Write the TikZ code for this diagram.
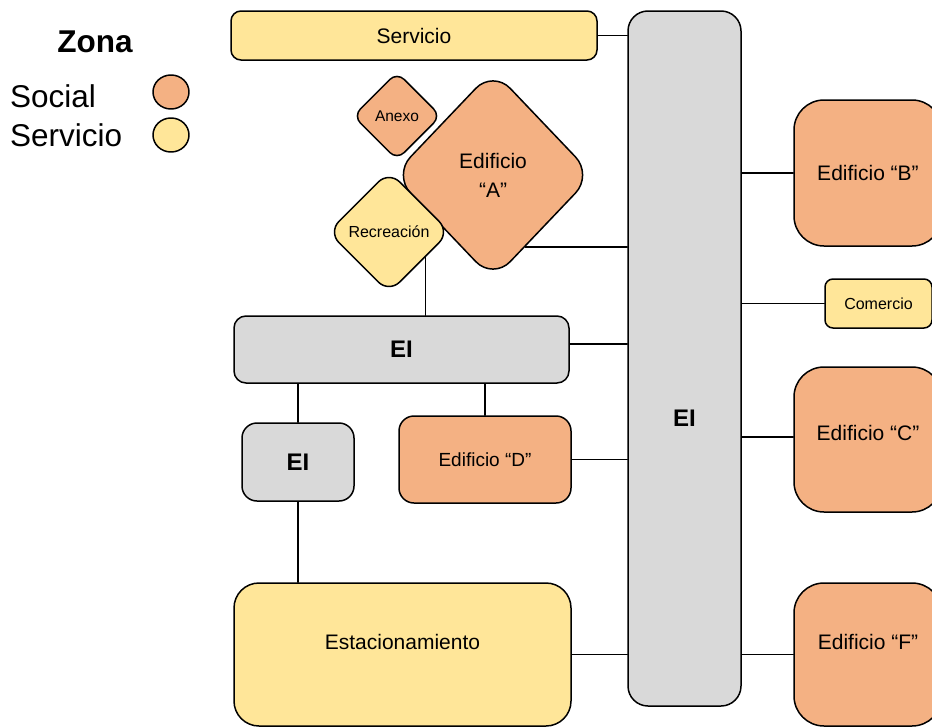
\documentclass[tikz,border=0pt]{standalone}
\usepackage{fontspec}
\setmainfont{Liberation Sans}
\usetikzlibrary{calc,shapes.geometric}
\definecolor{social}{HTML}{F4B183}
\definecolor{servi}{HTML}{FFE699}
\definecolor{gris}{HTML}{D9D9D9}
\newcommand{\fs}[1]{\fontsize{#1}{1.2\dimexpr#1pt\relax}\selectfont}

\begin{document}
\begin{tikzpicture}[x=1pt,y=-1pt,line join=round,line cap=round,line width=1.5pt,
	caja/.style={draw,rectangle,inner sep=0pt,font=\fs{21}},
	rombo/.style={draw,diamond,inner sep=0pt,aspect=1},
	circ/.style={draw,ellipse,inner sep=0pt,minimum width=36pt,minimum height=34pt}]
	\useasboundingbox (0,0) rectangle (932,728);
	% Leyenda
	\node (zona) at (95,42) {\fs{31.5}\bfseries Zona};
	\node[anchor=west] (lsoc) at (6,96) {\fs{31.5}Social};
	\node[anchor=west] (lser) at (6,135) {\fs{31.5}Servicio};
	\node[circ,fill=social] (csoc) at (171,92) {};
	\node[circ,fill=servi] (cser) at (171,135) {};
	% Eje central
	\node[caja,fill=gris,rounded corners=20pt,minimum width=113pt,minimum height=695pt,
		label={[font=\fs{24}\bfseries,yshift=-59.5pt]center:EI}] (eiv) at (684.5,358.5) {};
	% Lado izquierdo
	\node[caja,fill=servi,rounded corners=10pt,minimum width=366pt,minimum height=49pt] (serv) at (414,35.5) {Servicio};
	\node[rombo,fill=social,rounded corners=25pt,minimum width=200pt,minimum height=210pt,font=\fs{21},align=center] (edA) at (493,175) {Edificio\\[4pt]\textquotedblleft A\textquotedblright};
	\node[rombo,fill=social,rounded corners=10pt,minimum size=88pt,font=\fs{15.5}] (anexo) at (397,116) {Anexo};
	\node[rombo,fill=servi,rounded corners=15pt,minimum size=122pt,font=\fs{16}] (recre) at (389,232) {Recreación};
	\node[caja,fill=gris,rounded corners=12pt,minimum width=335pt,minimum height=67pt,font=\fs{24}\bfseries] (eih) at (401.5,349.5) {EI};
	\node[caja,fill=gris,rounded corners=15pt,minimum width=112pt,minimum height=78pt,font=\fs{24}\bfseries] (eis) at (298,462) {EI};
	\node[caja,fill=social,rounded corners=15pt,minimum width=172pt,minimum height=87pt,font=\fs{19}] (edD) at (485,459.5) {Edificio \textquotedblleft D\textquotedblright};
	\node[caja,fill=servi,rounded corners=25pt,minimum width=337pt,minimum height=143pt,
		label={[font=\fs{21},yshift=13pt]center:Estacionamiento}] (estac) at (402.5,654.5) {};
	% Lado derecho
	\node[caja,fill=social,rounded corners=30pt,minimum width=148pt,minimum height=146pt] (edB) at (868,173) {Edificio \textquotedblleft B\textquotedblright};
	\node[caja,fill=servi,rounded corners=8pt,minimum width=107pt,minimum height=49pt,font=\fs{16}] (come) at (878.5,303.5) {Comercio};
	\node[caja,fill=social,rounded corners=30pt,minimum width=148pt,minimum height=145pt,
		label={[font=\fs{21},yshift=7pt]center:Edificio \textquotedblleft C\textquotedblright}] (edC) at (868,439.5) {};
	\node[caja,fill=social,rounded corners=30pt,minimum width=148pt,minimum height=143pt,
		label={[font=\fs{21},yshift=13pt]center:Edificio \textquotedblleft F\textquotedblright}] (edF) at (868,654.5) {};
	% Conexiones
	\coordinate (pa) at ($(edA.south)!0.32!(edA.east)$);
	\coordinate (pr) at ($(recre.south)!0.59!(recre.east)$);
	\draw (serv.east) -- (serv.east -| eiv.west);
	\draw (pa) -- (pa -| eiv.west);
	\draw (pr) -- (pr |- eih.north);
	\draw ([yshift=5.5pt]eih.east) -- ([yshift=5.5pt]eih.east -| eiv.west);
	\draw (eih.south -| eis) -- (eis.north);
	\draw (edD.north) -- (edD.north |- eih.south);
	\draw (edD.east) -- (edD.east -| eiv.west);
	\draw (eis.south) -- (eis.south |- estac.north);
	\draw (estac.east) -- (estac.east -| eiv.west);
	\draw (edB.west) -- (edB.west -| eiv.east);
	\draw (come.west) -- (come.west -| eiv.east);
	\draw ([yshift=2.5pt]edC.west) -- ([yshift=2.5pt]edC.west -| eiv.east);
	\draw (edF.west) -- (edF.west -| eiv.east);
\end{tikzpicture}
\end{document}
